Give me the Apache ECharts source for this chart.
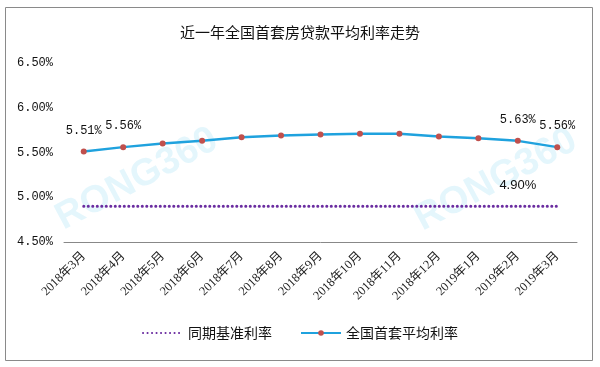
<!DOCTYPE html>
<html>
<head>
<meta charset="utf-8">
<script src="https://cdn.jsdelivr.net/npm/echarts@6/dist/echarts.min.js"></script>
<style>html,body{margin:0;padding:0;background:#fff}#c{width:600px;height:367px}</style>
</head>
<body>
<div id="c"></div>
<script>
var categories = ['2018年3月','2018年4月','2018年5月','2018年6月','2018年7月','2018年8月','2018年9月','2018年10月','2018年11月','2018年12月','2019年1月','2019年2月','2019年3月'];
var benchmarkRate = [4.90,4.90,4.90,4.90,4.90,4.90,4.90,4.90,4.90,4.90,4.90,4.90,4.90];
var firstHomeRate = [5.51,5.56,5.60,5.63,5.67,5.69,5.70,5.71,5.71,5.68,5.66,5.63,5.56];
var benchmarkLabeled = [11];
var firstHomeLabeled = [0,1,11,12];
var yTicks = [4.5,5.0,5.5,6.0,6.5];

var chart = echarts.init(document.getElementById('c'));
function pct(v){ return Number(v).toFixed(2) + '%'; }
function build(vals, labeled, labelOpt){
  return vals.map(function(v,i){
    var item = {value: v};
    if (labeled.indexOf(i) >= 0) item.label = Object.assign({show: true}, labelOpt);
    return item;
  });
}
chart.setOption({
  animation: false,
  backgroundColor: '#fff',
  title: {
    text: '近一年全国首套房贷款平均利率走势',
    left: 'center', top: 20,
    textStyle: {fontFamily: 'Noto Sans CJK SC', fontSize: 15, fontWeight: 'normal', color: '#111'}
  },
  graphic: [
    {type: 'rect', shape: {x: 5.5, y: 7.5, width: 587, height: 353}, style: {fill: 'none', stroke: '#8a8a8a', lineWidth: 1}, z: 0},
    {type: 'text', x: 137, y: 179, rotation: 28 * Math.PI / 180, style: {text: 'RONG360', fontSize: 38, fontWeight: 'bold', fontFamily: 'Liberation Sans', fill: 'rgba(120,210,240,0.2)', align: 'center', verticalAlign: 'middle'}, z: 1},
    {type: 'text', x: 496, y: 180, rotation: 28 * Math.PI / 180, style: {text: 'RONG360', fontSize: 38, fontWeight: 'bold', fontFamily: 'Liberation Sans', fill: 'rgba(120,210,240,0.2)', align: 'center', verticalAlign: 'middle'}, z: 1}
  ],
  legend: {
    bottom: 22, left: 'center',
    itemWidth: 40, itemHeight: 7, itemGap: 28,
    textStyle: {fontFamily: 'Noto Sans CJK SC', fontSize: 14, color: '#111'},
    data: [
      {name: '同期基准利率', itemStyle: {opacity: 0}},
      {name: '全国首套平均利率'}
    ]
  },
  grid: {left: 64, right: 23, top: 63, bottom: 125, containLabel: false},
  xAxis: {
    type: 'category', data: categories, boundaryGap: true,
    axisLine: {lineStyle: {color: '#888', width: 1}},
    axisTick: {show: false},
    axisLabel: {rotate: 45, interval: 0, fontFamily: 'Liberation Serif, Noto Sans CJK SC', fontSize: 12.5, color: '#222', margin: 12}
  },
  yAxis: {
    type: 'value', min: yTicks[0], max: yTicks[yTicks.length-1], interval: 0.5,
    axisLine: {show: false}, axisTick: {show: false}, splitLine: {show: false},
    axisLabel: {formatter: pct, fontFamily: 'Liberation Mono', fontSize: 12, color: '#111', margin: 11}
  },
  series: [
    {
      name: '同期基准利率', type: 'line', symbol: 'circle', symbolSize: 0, showSymbol: true, showAllSymbol: true,
      lineStyle: {color: '#6a2ca0', width: 3, type: [0.1, 4.4], cap: 'round'},
      itemStyle: {color: '#6a2ca0'},
      data: build(benchmarkRate, benchmarkLabeled, {position: 'top', distance: 14, formatter: function(p){return pct(p.value);}, fontFamily: 'Liberation Sans', fontSize: 13, color: '#111'}),
      z: 3
    },
    {
      name: '全国首套平均利率', type: 'line', symbol: 'circle', symbolSize: 6, showAllSymbol: true,
      lineStyle: {color: '#1fa2de', width: 2.5},
      itemStyle: {color: '#c0504d', borderWidth: 0},
      data: build(firstHomeRate, firstHomeLabeled, {position: 'top', distance: 12, formatter: function(p){return pct(p.value);}, fontFamily: 'Liberation Mono', fontSize: 12, color: '#111'}),
      z: 4
    }
  ]
});
</script>
</body>
</html>
